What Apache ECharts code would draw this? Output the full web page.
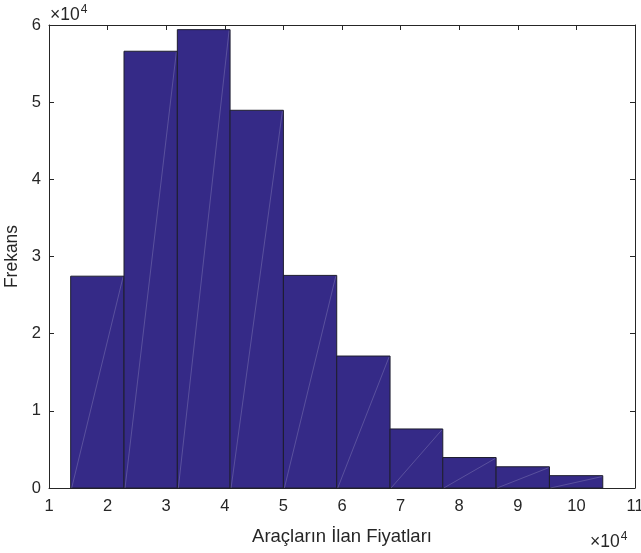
<!DOCTYPE html>
<html><head><meta charset="utf-8">
<script src="https://cdn.jsdelivr.net/npm/echarts@6/dist/echarts.min.js"></script>
<style>html,body{margin:0;padding:0;background:#fff}#c{width:641px;height:553px}</style>
</head><body><div id="c"></div>
<script>
// Histogram bin edges (price) and frequencies
const binEdges = [13700, 22800, 31900, 40900, 50000, 59100, 68200, 77200, 86300, 95400, 104500];
const counts = [27450, 56600, 59400, 48950, 27550, 17100, 7650, 3950, 2750, 1600];
const xTicks = [1,2,3,4,5,6,7,8,9,10,11];
const yTicks = [0,1,2,3,4,5,6];
const xLabel = 'Araçların İlan Fiyatları';
const yLabel = 'Frekans';

const bars = counts.map((c, i) => [binEdges[i], binEdges[i + 1], c]);
const FONT = '"Liberation Sans", Arial, Helvetica, sans-serif';
const AX = '#262626';
const FS = 16.5;

const chart = echarts.init(document.getElementById('c'));
const axisCommon = {
  axisLine: { show: true, onZero: false, lineStyle: { color: AX, width: 1 } },
  axisTick: { show: true, inside: true, length: 5, lineStyle: { color: AX, width: 1 } },
  splitLine: { show: false }
};
chart.setOption({
  animation: false,
  grid: { left: 49, right: 6, top: 25, bottom: 65, containLabel: false, outerBoundsMode: 'none' },
  xAxis: [
    Object.assign({
      type: 'value', min: 10000, max: 110000, interval: 10000, position: 'bottom',
      axisLabel: { show: true, color: AX, fontFamily: FONT, fontSize: FS, margin: 10,
        formatter: v => String(v / 10000) },
      name: xLabel, nameLocation: 'middle', nameGap: 39,
      nameTextStyle: { color: AX, fontFamily: FONT, fontSize: 18.5 }
    }, axisCommon),
    Object.assign({
      type: 'value', min: 10000, max: 110000, interval: 10000, position: 'top',
      axisLabel: { show: false }
    }, axisCommon)
  ],
  yAxis: [
    Object.assign({
      type: 'value', min: 0, max: 60000, interval: 10000, position: 'left',
      axisLabel: { show: true, color: AX, fontFamily: FONT, fontSize: FS, margin: 8,
        formatter: v => String(v / 10000) },
      name: yLabel, nameLocation: 'middle', nameGap: 26, nameRotate: 90,
      nameTextStyle: { color: AX, fontFamily: FONT, fontSize: 17.5 }
    }, axisCommon),
    Object.assign({
      type: 'value', min: 0, max: 60000, interval: 10000, position: 'right',
      axisLabel: { show: false }
    }, axisCommon)
  ],
  series: [{
    type: 'custom',
    xAxisIndex: 0, yAxisIndex: 0,
    data: bars,
    renderItem: function (params, api) {
      const p0 = api.coord([api.value(0), 0]);
      const p1 = api.coord([api.value(1), api.value(2)]);
      return {
        type: 'group',
        children: [
          { type: 'rect',
            shape: { x: p0[0], y: p1[1], width: p1[0] - p0[0], height: p0[1] - p1[1] },
            style: { fill: '#352A87', stroke: '#1e1e2e', lineWidth: 1 } },
          { type: 'line',
            shape: { x1: p0[0] + 1, y1: p0[1], x2: p1[0] - 1, y2: p1[1] + 1 },
            style: { stroke: 'rgba(255,255,255,0.3)', lineWidth: 0.6 } }
        ]
      };
    }
  }],
  graphic: [
    { type: 'text', left: 50, top: 4,
      style: { text: '×10{s|4}', fontFamily: FONT, fontSize: 17.5, fill: AX,
        rich: { s: { fontSize: 12, fontFamily: FONT, fill: AX, verticalAlign: 'top', padding: [0,0,10,1] } } } },
    { type: 'text', left: 590, top: 531,
      style: { text: '×10{s|4}', fontFamily: FONT, fontSize: 17.5, fill: AX,
        rich: { s: { fontSize: 12, fontFamily: FONT, fill: AX, verticalAlign: 'top', padding: [0,0,10,1] } } } }
  ]
});
</script></body></html>
